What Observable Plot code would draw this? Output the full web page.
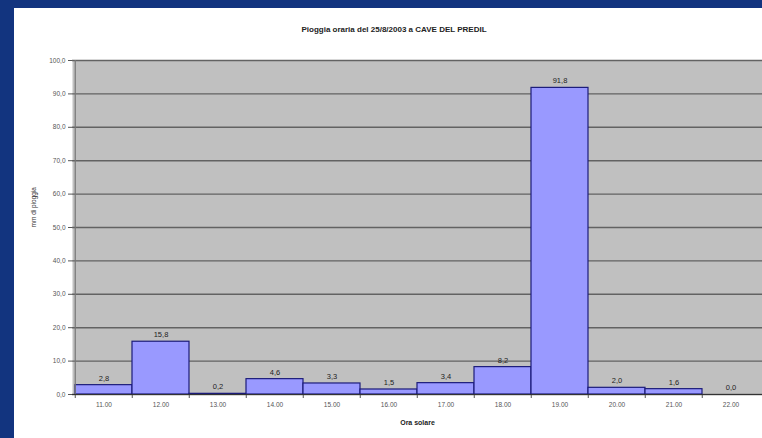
<!DOCTYPE html>
<html>
<head>
<meta charset="utf-8">
<script src="https://cdn.jsdelivr.net/npm/d3@7"></script>
<script src="https://cdn.jsdelivr.net/npm/@observablehq/plot@0.6"></script>
<style>
  html, body { margin: 0; padding: 0; }
  body { width: 762px; height: 438px; background: #12347f; position: relative; overflow: hidden; font-family: "Liberation Sans", Arial, sans-serif; }
  #panel { position: absolute; left: 14px; top: 8px; width: 748px; height: 430px; background: #fff; }
  #title { position: absolute; left: 0; width: 760px; top: 17px; text-align: center; font-size: 8px; font-weight: bold; color: #222; }
  #chart { position: absolute; left: 0; top: 0; }
</style>
</head>
<body>
<div id="panel">
  <div id="title">Pioggia oraria del 25/8/2003 a CAVE DEL PREDIL</div>
  <div id="chart"></div>
</div>
<script>
const ore = ["11.00","12.00","13.00","14.00","15.00","16.00","17.00","18.00","19.00","20.00","21.00","22.00"];
const pioggia = [2.8, 15.8, 0.2, 4.6, 3.3, 1.5, 3.4, 8.2, 91.8, 2.0, 1.6, 0.0];
const yTicks = [0,10,20,30,40,50,60,70,80,90,100];

const data = ore.map((o, i) => ({ora: o, mm: pioggia[i]}));
const fmt = v => v.toFixed(1).replace(".", ",");
const bw = (748 - 58) / ore.length;

const plot = Plot.plot({
  width: 748,
  height: 430,
  marginLeft: 58,
  marginRight: 0,
  marginTop: 52,
  marginBottom: 44,
  style: { fontFamily: "Liberation Sans, Arial, sans-serif", background: "transparent", overflow: "visible" },
  x: { domain: ore, padding: 0, label: null },
  y: { domain: [0, 100], label: null },
  marks: [
    Plot.frame({ fill: "#c0c0c0", stroke: null }),
    Plot.ruleY(yTicks, { stroke: "#626262", strokeWidth: 1.4 }),
    Plot.barY(data, { x: "ora", y: "mm", fill: "#9999ff", stroke: "#1c1c7a", strokeWidth: 1.2 }),
    Plot.text(data, { x: "ora", y: "mm", text: d => fmt(d.mm), dy: -7, fontSize: 7.5, fill: "#222" }),
    Plot.axisY(yTicks, { tickFormat: fmt, tickSize: 4, tickPadding: 3, fontSize: 6.5, fill: "#555", stroke: "#555" }),
    Plot.axisX({ tickSize: 0, tickPadding: 8, fontSize: 6.5, fill: "#555" }),
    Plot.ruleX(ore, { x: d => d, dx: -bw / 2, y1: 0, y2: 0, insetBottom: -4, stroke: "#555" }),
    Plot.ruleX([ore[0]], { dx: -bw / 2, stroke: "#777", strokeWidth: 1.2 }),
    Plot.ruleY([0], { stroke: "#333", strokeWidth: 1 }),
    Plot.text(["Ora solare"], { frameAnchor: "bottom", dy: 30, fontSize: 7, fontWeight: "bold", fill: "#222" }),
    Plot.text(["mm di pioggia"], { frameAnchor: "left", dx: -39, rotate: -90, fontSize: 6.5, fill: "#333" })
  ]
});
document.getElementById("chart").appendChild(plot);
</script>
</body>
</html>
